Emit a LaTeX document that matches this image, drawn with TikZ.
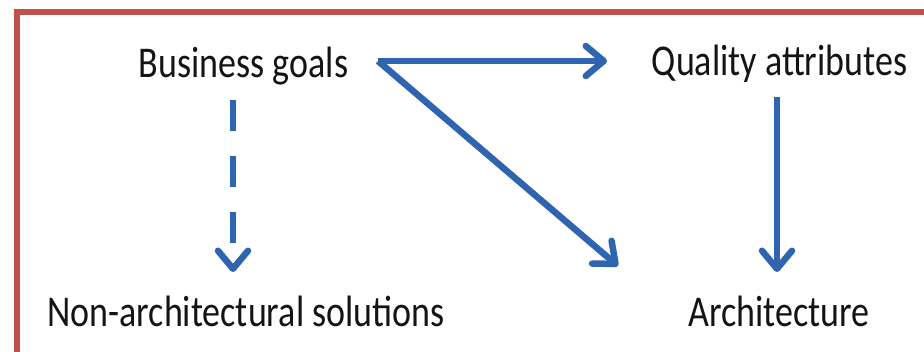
\documentclass[tikz,border=0pt]{standalone}
\usepackage{fontspec}
\setmainfont{Carlito}
\usetikzlibrary{arrows.meta}
\definecolor{framered}{RGB}{192,80,77}
\definecolor{arrblue}{RGB}{46,100,176}
\definecolor{txt}{RGB}{20,20,20}
\begin{document}
\begin{tikzpicture}[x=1pt,y=-1pt,
  lbl/.style={anchor=base, inner sep=0pt, text=txt, font=\fontsize{36}{40}\selectfont},
  conn/.style={draw=arrblue, line width=6.5pt, -{Straight Barb[length=18pt,width=30pt,line cap=round,line join=round]}},
  dashconn/.style={conn, dash pattern=on 31pt off 25pt}]
\useasboundingbox (0,0) rectangle (924,352);
\clip (0,0) rectangle (924,352);
\fill[white] (0,0) rectangle (924,352);
\draw[framered, line width=6pt] (16.5,12) rectangle (980,400);

\node[lbl] (bg) at (243.5,78) {\scalebox{1}[1.22]{Business goals}};
\node[lbl] (qa) at (779.5,76) {\scalebox{1}[1.22]{Quality attributes}};
\node[lbl] (na) at (246,327) {\scalebox{1}[1.22]{Non-architectural solutions}};
\node[lbl] (ar) at (779,327) {\scalebox{1}[1.22]{Architecture}};

\coordinate (bgout) at (378,61);
\coordinate (bgdown) at (233,100);
\coordinate (qain) at (607,61);
\coordinate (qadown) at (777,97);
\coordinate (nain) at (233,272);
\coordinate (arin) at (618,266);
\coordinate (arin2) at (777,272);

\draw[conn] (bgout) -- (qain);
\draw[conn] (bgout) -- (arin);
\draw[conn] (qadown) -- (arin2);
\draw[dashconn] (bgdown) -- (nain);
\end{tikzpicture}
\end{document}
